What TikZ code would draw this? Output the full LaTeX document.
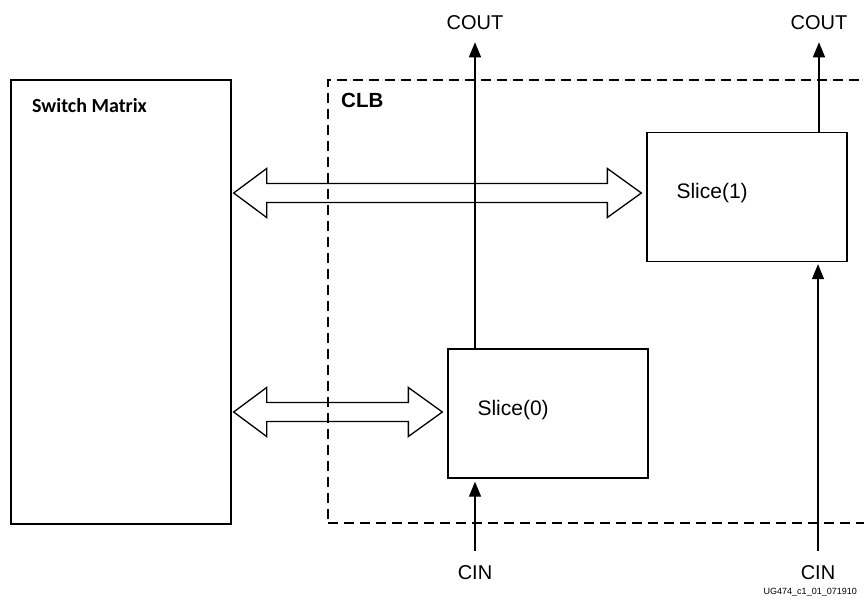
\documentclass[tikz,border=0pt]{standalone}
\usepackage{fontspec}
\setmainfont{Liberation Sans}
\newfontfamily\calibri{Carlito}
\usetikzlibrary{positioning,calc,arrows.meta}

\tikzstyle{block}=[draw, line width=1.3pt, inner sep=0pt, minimum width=200pt, minimum height=129pt]
\tikzstyle{region}=[draw, dash pattern=on 10pt off 6pt, line width=1.3pt, inner sep=0pt]
\tikzstyle{sig}=[draw, line width=1.3pt, -{Triangle[length=15pt,width=12pt]}]
\tikzstyle{bus}=[draw, line width=1.3pt, line join=miter]
\tikzstyle{lbl}=[font=\fontsize{20}{24}\selectfont, inner sep=0pt]
\tikzstyle{slicename}=[font=\fontsize{21}{24}\selectfont, inner sep=0pt]
\tikzstyle{title}=[font=\fontsize{20.5}{24}\selectfont\bfseries, inner sep=0pt]

% hollow two-headed bus arrow between two points
\newcommand{\busarrow}[2]{%
  \draw[bus] let \p1=(#1), \p2=(#2) in
    (\x1,\y1) -- ++(33pt,24.5pt) -- ++(0,-15pt) -- (\x2-34pt,\y2+9.5pt)
    -- ++(0,15pt) -- (\x2,\y2) -- ++(-34pt,-24.5pt) -- ++(0,15pt)
    -- (\x1+33pt,\y1-9.5pt) -- ++(0,-15pt) -- cycle;}

\begin{document}
\begin{tikzpicture}[x=1pt, y=-1pt]
    \useasboundingbox (0,0) rectangle (864,599);
    \clip (0,0) rectangle (864,599);

    % switch matrix and CLB outline
    \node[draw, line width=1.3pt, minimum width=220pt, minimum height=444pt] (sm) at (121,302) {};
    \node[font=\calibri\fontsize{20}{24}\selectfont\bfseries, inner sep=0pt, anchor=west] (smname) at (32,106) {Switch Matrix};
    \node[region, minimum width=572pt, minimum height=443pt] (clb) at (614,301.5) {};
    \node[title, anchor=west] (clbname) at (341,100) {CLB};

    % the two slices
    \foreach \pos/\name/\idx in {
                            {(548,413.5)/slice0/0},
                            {(747,197)/slice1/1}}
    {
        \node[block] (\name) at \pos {};
        \node[slicename, right=30pt of \name.west, yshift=3.5pt] (\name name) {Slice(\idx)};
    }

    % carry chain
    \node[lbl] (cout0) at (475,23) {COUT};
    \node[lbl] (cout1) at (819,23) {COUT};
    \node[lbl] (cin0) at (475,573) {CIN};
    \node[lbl] (cin1) at (818,573) {CIN};
    \draw[sig] (slice0.north -| cout0) -- ([yshift=-12pt]cout0.south);
    \draw[sig] (slice1.north -| cout1) -- ([yshift=-12pt]cout1.south);
    \draw[sig, shorten >=3pt] ([yshift=15pt]cin0.north) -- (slice0.south -| cin0);
    \draw[sig, shorten >=2pt] ([yshift=15pt]cin1.north) -- (slice1.south -| cin1);

    % buses to the switch matrix
    \busarrow{$(sm.east |- slice1.west)+(2,-4)$}{$(slice1.west)+(-5,-4)$}
    \busarrow{$(sm.east |- slice0.west)+(2,-1.5)$}{$(slice0.west)+(-5,-1.5)$}

    \node[font=\fontsize{9}{10}\selectfont, inner sep=0pt, anchor=east] (figid) at (857,592) {UG474\_c1\_01\_071910};

\end{tikzpicture}
\end{document}
